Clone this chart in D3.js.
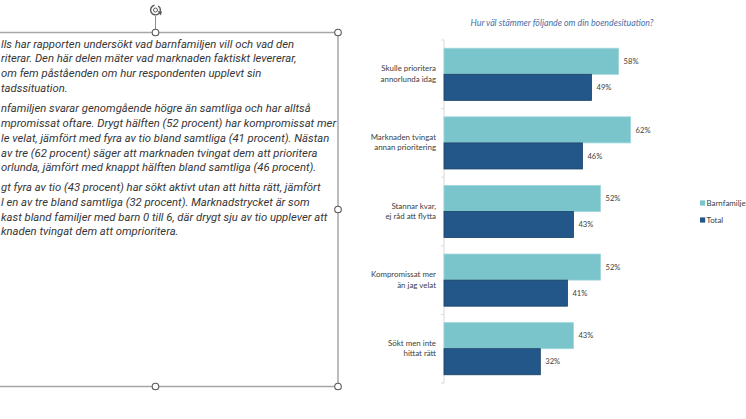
<!DOCTYPE html>
<html>
<head>
<meta charset="utf-8">
<script src="https://cdn.jsdelivr.net/npm/d3@7"></script>
<style>
  body { margin: 0; background: #fff; }
  svg { display: block; }
</style>
</head>
<body>
<svg id="chart"></svg>
<script>
// categories and series
var categories = [
  "Skulle prioritera annorlunda idag",
  "Marknaden tvingat annan prioritering",
  "Stannar kvar, ej råd att flytta",
  "Kompromissat mer än jag velat",
  "Sökt men inte hittat rätt"
];
var categoryLines = [
  ["Skulle prioritera", "annorlunda idag"],
  ["Marknaden tvingat", "annan prioritering"],
  ["Stannar kvar,", "ej råd att flytta"],
  ["Kompromissat mer", "än jag velat"],
  ["Sökt men inte", "hittat rätt"]
];
var seriesNames = ["Barnfamiljen", "Total"];
var barnfamiljen = [58, 62, 52, 52, 43];
var total = [49, 46, 43, 41, 32];
var chartTitle = "Hur väl stämmer följande om din boendesituation?";

// text box paragraphs (left edge cut off by the slide view)
var paragraphs = [
  ["lls har rapporten undersökt vad barnfamiljen vill och vad den",
   "riterar. Den här delen mäter vad marknaden faktiskt levererar,",
   "om fem påståenden om hur respondenten upplevt sin",
   "tadssituation."],
  ["nfamiljen svarar genomgående högre än samtliga och har alltså",
   "mpromissat oftare. Drygt hälften (52 procent) har kompromissat mer",
   "le velat, jämfört med fyra av tio bland samtliga (41 procent). Nästan",
   "av tre (62 procent) säger att marknaden tvingat dem att prioritera",
   "orlunda, jämfört med knappt hälften bland samtliga (46 procent)."],
  ["gt fyra av tio (43 procent) har sökt aktivt utan att hitta rätt, jämfört",
   "l en av tre bland samtliga (32 procent). Marknadstrycket är som",
   "kast bland familjer med barn 0 till 6, där drygt sju av tio upplever att",
   "knaden tvingat dem att omprioritera."]
];

var svgWidth = 746, svgHeight = 419;
var colors = { "Barnfamiljen": "#7ac4cc", "Total": "#235789" };
var strokes = { "Barnfamiljen": "#9fd6dc", "Total": "#173f66" };
var textColor = "#404040";
var chartFont = "Lato, 'Open Sans', sans-serif";

var svg = d3.select("#chart")
  .attr("width", svgWidth)
  .attr("height", svgHeight);

svg.append("rect")
  .attr("width", svgWidth)
  .attr("height", svgHeight)
  .style("fill", "#fff");

///////// text box on the left
var box = { right: 338, top: 32.5, bottom: 386.5, mid: 155.5 };

var textBox = svg.append("g").classed("textbox", true);

var lineH = 14.8, paraStart = [43.7, 108.3, 187];
paragraphs.forEach(function(p, pi) {
  p.forEach(function(line, li) {
    textBox.append("text")
      .attr("x", 1)
      .attr("y", paraStart[pi] + li*lineH)
      .attr("dy", "0.35em")
      .style("font-family", "Roboto, sans-serif")
      .style("font-style", "italic")
      .style("font-size", "11.3px")
      .style("fill", "#363636")
      .text(line);
  });
});

// frame of the selected text box
textBox.append("path")
  .attr("d", "M0," + box.top + "H" + box.right + "V" + box.bottom + "H0")
  .style("fill", "none")
  .style("stroke", "#a6a6a6")
  .style("stroke-width", 1.5);

// rotation handle
textBox.append("line")
  .attr("x1", box.mid).attr("x2", box.mid)
  .attr("y1", 16).attr("y2", box.top)
  .style("stroke", "#8c8c8c")
  .style("stroke-width", 1);

var rot = textBox.append("g").attr("transform", "translate(" + [box.mid, 10] + ")");
rot.append("path")
  .attr("d", d3.arc()({ innerRadius: 4.2, outerRadius: 5.6, startAngle: 0.6, endAngle: 2*Math.PI - 0.2 }))
  .style("fill", "#595959");
rot.append("circle").attr("r", 2).style("fill", "none").style("stroke", "#595959").style("stroke-width", 1);
rot.append("path")
  .attr("d", "M2.2,1.2 L6.6,1.6 L5.2,5.6 Z")
  .style("fill", "#595959");

var handles = [
  [box.mid, box.top], [box.right, box.top],
  [box.right, (box.top + box.bottom)/2],
  [box.mid, box.bottom], [box.right, box.bottom]
];
textBox.selectAll(".handle")
  .data(handles)
  .enter()
  .append("circle")
    .classed("handle", true)
    .attr("cx", function(d){ return d[0]; })
    .attr("cy", function(d){ return d[1]; })
    .attr("r", 3.3)
    .style("fill", "#fff")
    .style("stroke", "#595959")
    .style("stroke-width", 1.1);

///////// bar chart
var x = d3.scaleLinear().domain([0, 100]).range([444, 745]);
var y = d3.scaleBand()
  .domain(categories)
  .range([40, 383])
  .paddingInner(0.24)
  .paddingOuter(0.12);
var ySub = d3.scaleBand().domain(seriesNames).range([0, y.bandwidth()]);

var data = categories.map(function(c, i) {
  return { name: c, lines: categoryLines[i], values: [
    { series: "Barnfamiljen", value: barnfamiljen[i] },
    { series: "Total", value: total[i] }
  ]};
});

var chart = svg.append("g").classed("chart", true);

chart.append("text")
  .attr("x", 562)
  .attr("y", 23)
  .attr("dy", "0.35em")
  .attr("text-anchor", "middle")
  .style("font-family", chartFont)
  .style("font-style", "italic")
  .style("font-size", "8.8px")
  .style("fill", "#4a6fa5")
  .text(chartTitle);

// category axis: thin line with ticks between groups
var step = y.step(), axisTop = y.range()[0], axisBottom = y.range()[1];
chart.append("line")
  .attr("x1", x(0)).attr("x2", x(0))
  .attr("y1", axisTop).attr("y2", axisBottom)
  .style("stroke", "#d9d9d9")
  .style("stroke-width", 1);
chart.selectAll(".tick")
  .data(d3.range(categories.length + 1))
  .enter()
  .append("line")
    .classed("tick", true)
    .attr("x1", x(0) - 3).attr("x2", x(0))
    .attr("y1", function(i){ return axisTop + i*step; })
    .attr("y2", function(i){ return axisTop + i*step; })
    .style("stroke", "#d9d9d9");

var group = chart.selectAll(".group")
  .data(data)
  .enter()
  .append("g")
    .classed("group", true)
    .attr("transform", function(d){ return "translate(0," + y(d.name) + ")"; });

group.selectAll(".bar")
  .data(function(d){ return d.values; })
  .enter()
  .append("rect")
    .classed("bar", true)
    .attr("x", x(0))
    .attr("y", function(d){ return ySub(d.series); })
    .attr("width", function(d){ return x(d.value) - x(0); })
    .attr("height", ySub.bandwidth())
    .style("fill", function(d){ return colors[d.series]; })
    .style("stroke", function(d){ return strokes[d.series]; })
    .style("stroke-width", 0.8);

group.selectAll(".value")
  .data(function(d){ return d.values; })
  .enter()
  .append("text")
    .classed("value", true)
    .attr("x", function(d){ return x(d.value) + 5; })
    .attr("y", function(d){ return ySub(d.series) + ySub.bandwidth()/2; })
    .attr("dy", "0.35em")
    .style("font-family", chartFont)
    .style("font-size", "7.6px")
    .style("fill", textColor)
    .text(function(d){ return d.value + "%"; });

group.each(function(d) {
  var g = d3.select(this);
  var mid = y.bandwidth()/2;
  d.lines.forEach(function(l, i) {
    g.append("text")
      .attr("x", x(0) - 8)
      .attr("y", mid + (i - 0.5)*10.5 - 0.5)
      .attr("dy", "0.35em")
      .attr("text-anchor", "end")
      .style("font-family", chartFont)
      .style("font-size", "7.9px")
      .style("fill", textColor)
      .text(l);
  });
});

// legend (its right end runs past the slide view, as in the original)
var legend = chart.selectAll(".legend")
  .data(seriesNames)
  .enter()
  .append("g")
    .classed("legend", true)
    .attr("transform", function(d, i){ return "translate(" + [700, 203 + i*17] + ")"; });
legend.append("rect")
  .attr("x", 0).attr("y", -2.6)
  .attr("width", 5.2).attr("height", 5.2)
  .style("fill", function(d){ return colors[d]; });
legend.append("text")
  .attr("x", 6.5)
  .attr("dy", "0.35em")
  .style("font-family", chartFont)
  .style("font-size", "7.9px")
  .style("fill", textColor)
  .text(function(d){ return d; });
</script>
</body>
</html>
